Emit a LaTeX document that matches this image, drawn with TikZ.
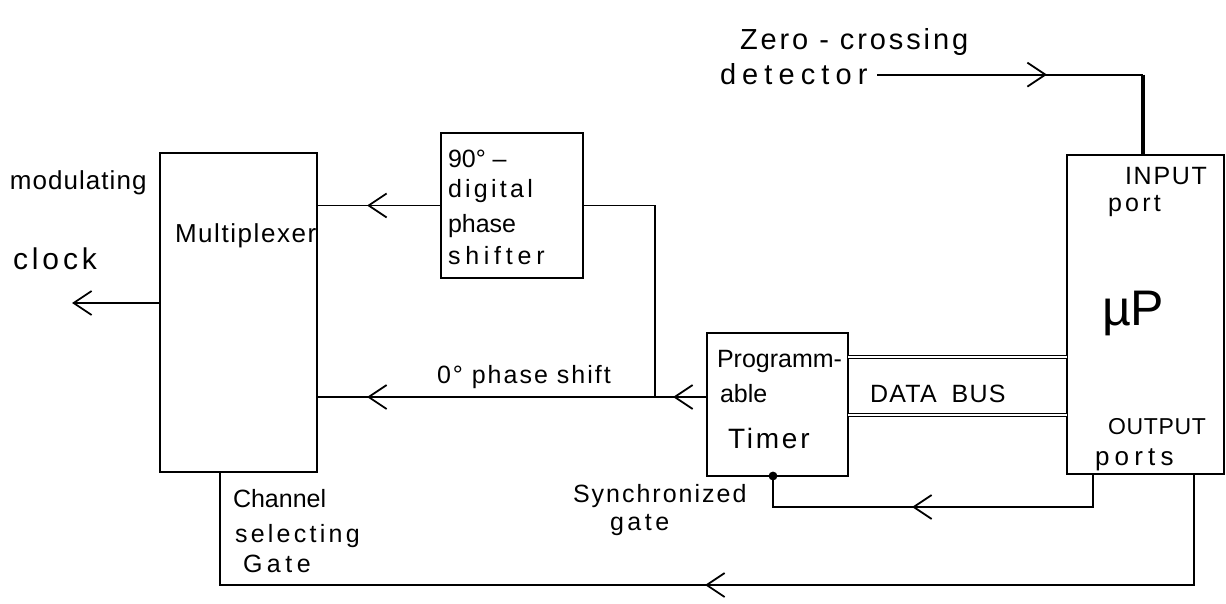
\documentclass[tikz,border=0pt]{standalone}
\usepackage{fontspec}
\setmainfont{Liberation Sans}
\usetikzlibrary{arrows.meta,decorations.markings,calc}
\newcommand{\lsp}[1]{\addfontfeature{LetterSpace=#1}}
\newcommand{\fsz}[1]{\fontsize{#1}{#1}\selectfont}
\begin{document}
\begin{tikzpicture}[x=0.5pt,y=-0.5pt,
  box/.style={draw, line width=0.9pt, inner sep=0pt, outer sep=0pt},
  wire/.style={line width=0.9pt},
  bus/.style={double, double distance=1pt, line width=0.55pt},
  txt/.style={anchor=base west, inner sep=0pt, outer sep=0pt, font=\fsz{12.5}},
  midarrow/.style={postaction={decorate},decoration={markings,
    mark=at position #1 with {\arrow{Straight Barb[length=9pt,width=12pt]}}}},
  twoarrows/.style 2 args={postaction={decorate},decoration={markings,
    mark=at position #1 with {\arrow{Straight Barb[length=9pt,width=12pt]}},
    mark=at position #2 with {\arrow{Straight Barb[length=9pt,width=12pt]}}}},
]
\fill[white] (0,0) rectangle (1226,604);
\useasboundingbox (0,0) rectangle (1226,604);

% blocks
\node[box, minimum width=78.5pt, minimum height=159.5pt] (mux) at (238.5,312.5) {};
\node[box, minimum width=71pt, minimum height=72.5pt] (ps90) at (512,205.5) {};
\node[box, minimum width=70.5pt, minimum height=71.5pt] (timer) at (777.5,404.5) {};
\node[box, minimum width=78.5pt, minimum height=159.5pt] (up) at (1145.5,314.5) {};

% texts
\node[txt, font=\fsz{14.5}] (zc1) at (740,50) {\lsp{10}Zero - crossing};
\node[txt, font=\fsz{14.5}] (det) at (720,85) {\lsp{21}detector};
\node[txt, font=\fsz{13}] (mod) at (10,190) {\lsp{4}modulating};
\node[txt, font=\fsz{15}] (clk1) at (13,270) {\lsp{13}clock};
\node[txt, font=\fsz{13}] (muxt) at (175,243) {\lsp{6}Multiplexer};
\node[txt] (p1) at (448,168) {90° –};
\node[txt] (p2) at (448,198) {\lsp{13}digital};
\node[txt] (p3) at (448,233) {phase};
\node[txt] (p4) at (448,265) {\lsp{19}shifter};
\node[txt] (zero) at (437,383) {\lsp{8}0° phase shift};
\node[txt] (t1) at (717,367) {Programm-};
\node[txt] (t2) at (720,402) {able};
\node[txt, font=\fsz{14}] (t3) at (728,448) {\lsp{10}Timer};
\node[txt] (dbus) at (870,402) {\lsp{5}DATA\hspace{0.6em}BUS};
\node[txt, font=\fsz{25}] (mup) at (1102,325) {µP};
\node[txt] (in1) at (1125,185) {\lsp{7}INPUT};
\node[txt] (in2) at (1108,212) {\lsp{13}port};
\node[txt, font=\fsz{11.5}] (out1) at (1108,434) {\lsp{3}OUTPUT};
\node[txt, font=\fsz{13}] (out2) at (1095,465) {\lsp{20}ports};
\node[txt] (sy1) at (573,502) {\lsp{8}Synchronized};
\node[txt] (sy2) at (610,530) {\lsp{14}gate};
\node[txt] (ch1) at (233,507) {Channel};
\node[txt] (ch2) at (235,542) {\lsp{13}selecting};
\node[txt] (ch3) at (243,572) {\lsp{18}Gate};

% helper coordinates
\coordinate (clk) at (72,303);
\coordinate (j) at (655,397);
\coordinate (zc) at (1143,73);
\coordinate (sg) at (773,507);
\coordinate (sgr) at (1093,507);
\coordinate (cg) at (220,585);
\coordinate (cgr) at (1194,585);
\coordinate (b1) at (950,357);
\coordinate (b2) at (950,415);

% connectors
\draw[wire,-{Straight Barb[length=9pt,width=12pt]}] (mux.west |- clk) -- (clk);
\draw[wire,midarrow=37pt] (ps90.west) -- (mux.east |- ps90.west);
\draw[wire] (ps90.east) -| (j);
\draw[wire,twoarrows={17pt}{170pt}] (timer.west |- j) -- (mux.east |- j);
\draw[wire,midarrow=-48pt,shorten <=5pt] (det.east) -- (det.east -| zc);
\draw[line width=1.6pt] (det.east -| zc) -- (up.north -| zc);
\draw[wire,midarrow=107pt] (up.south -| sgr) -- (sgr) -- (sg) -- (timer.south -| sg);
\fill (timer.south -| sg) circle (2.2pt);
\draw[wire,midarrow=300pt] (up.south -| cgr) -- (cgr) -- (cg) -- (mux.south -| cg);
\draw[bus] (timer.east |- b1) -- (up.west |- b1);
\draw[bus] (timer.east |- b2) -- (up.west |- b2);
\end{tikzpicture}
\end{document}
